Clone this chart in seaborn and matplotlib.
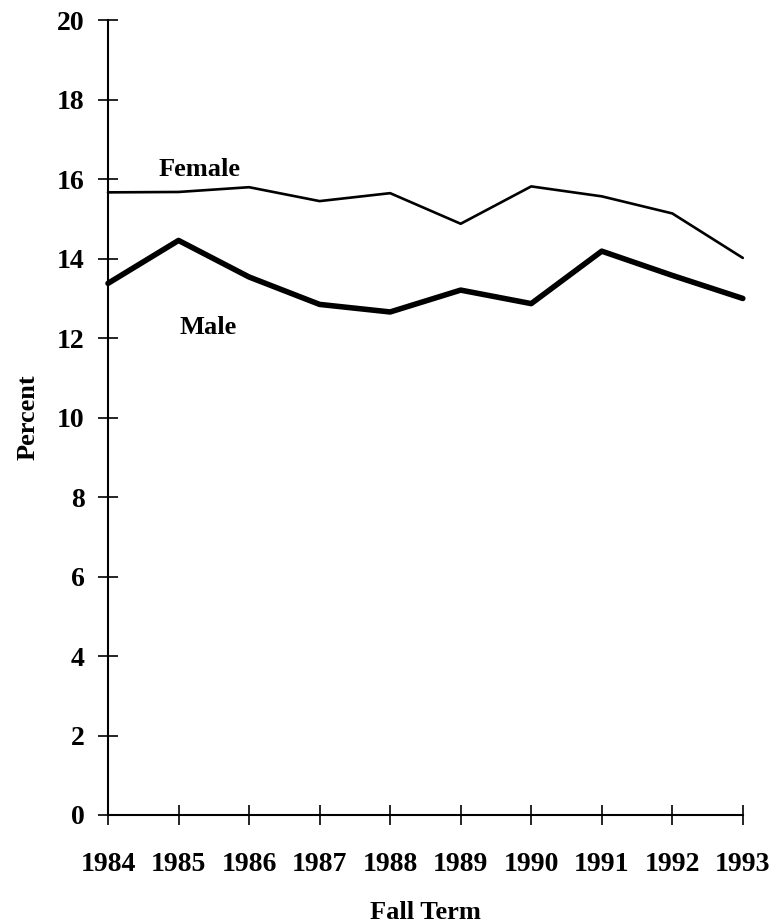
import pandas as pd
import matplotlib.pyplot as plt
import seaborn as sns

# data
years = [1984, 1985, 1986, 1987, 1988, 1989, 1990, 1991, 1992, 1993]
female_pct = [15.67, 15.68, 15.80, 15.45, 15.65, 14.88, 15.82, 15.57, 15.14, 14.02]
male_pct = [13.38, 14.46, 13.54, 12.85, 12.66, 13.21, 12.87, 14.19, 13.58, 13.00]
y_ticks = [0, 2, 4, 6, 8, 10, 12, 14, 16, 18, 20]

df = pd.DataFrame({"Year": years, "Female": female_pct, "Male": male_pct})

sns.set_theme(style="ticks")
plt.rcParams["font.family"] = ["Liberation Serif", "DejaVu Serif"]
plt.rcParams["font.weight"] = "bold"
plt.rcParams["text.color"] = "black"
plt.rcParams["axes.labelcolor"] = "black"
plt.rcParams["xtick.color"] = "black"
plt.rcParams["ytick.color"] = "black"

fig = plt.figure(figsize=(7.77, 9.24), dpi=100)
ax = fig.add_axes([0.139, 0.118, 0.817, 0.860])

sns.lineplot(data=df, x="Year", y="Female", color="black", linewidth=1.9, ax=ax)
sns.lineplot(data=df, x="Year", y="Male", color="black", linewidth=4.0, ax=ax)
for line in ax.lines:
    line.set_clip_on(False)
    line.set_solid_capstyle("round")
    line.set_solid_joinstyle("round")

ax.text(1984.71, 16.25, "Female", fontsize=19, fontweight="bold", va="center", ha="left")
ax.text(1985.02, 12.28, "Male", fontsize=19, fontweight="bold", va="center", ha="left")

ax.set_xlim(years[0], years[-1])
ax.set_ylim(0, 20)
ax.set_xticks(years)
ax.set_yticks(y_ticks)
ax.tick_params(direction="inout", length=14, width=1.2, labelsize=20)
for lab in ax.get_xticklabels() + ax.get_yticklabels():
    lab.set_fontweight("bold")
ax.tick_params(axis="x", pad=20)
ax.tick_params(axis="y", pad=10)

ax.set_xlabel("Fall Term", fontsize=19, fontweight="bold", labelpad=17)
ax.set_ylabel("Percent", fontsize=19, fontweight="bold", labelpad=12)

sns.despine(ax=ax)
ax.spines["left"].set_linewidth(1.5)
ax.spines["bottom"].set_linewidth(1.5)
ax.spines["left"].set_color("black")
ax.spines["bottom"].set_color("black")

fig.savefig("out.png", dpi=100)
plt.close()
